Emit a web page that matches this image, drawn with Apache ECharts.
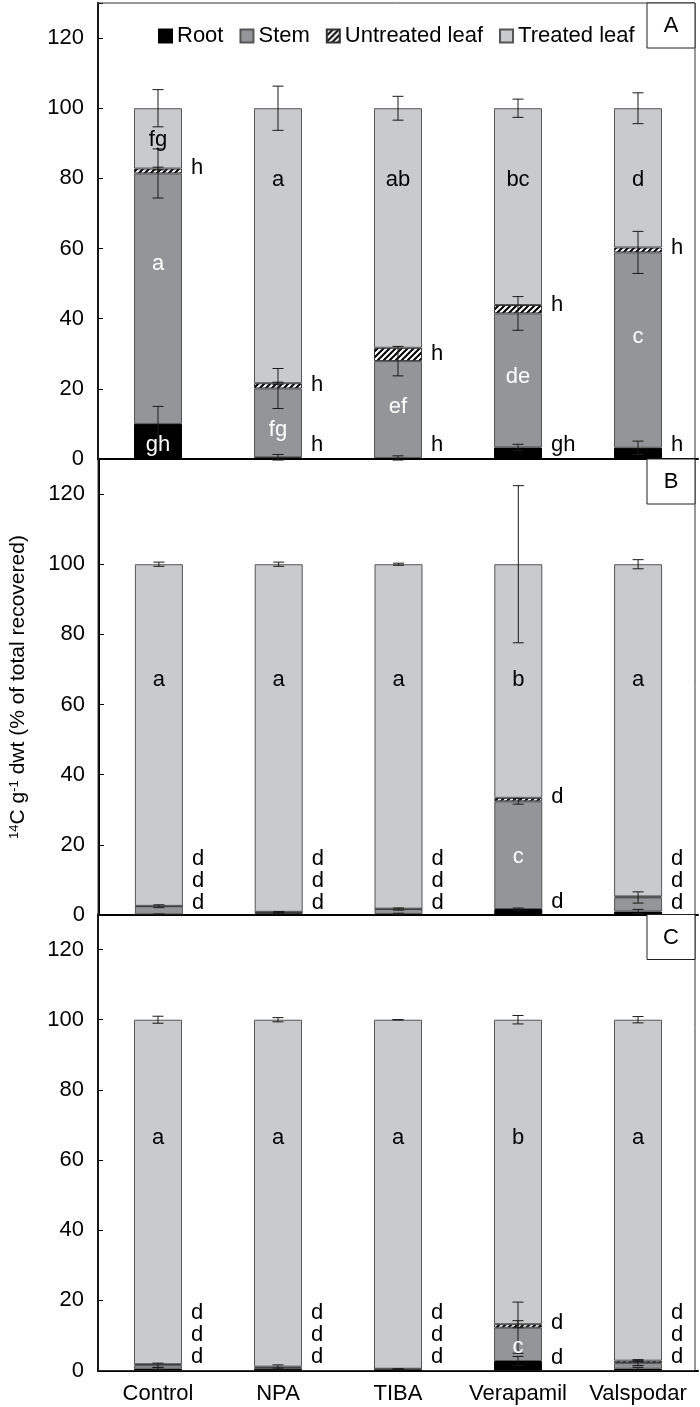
<!DOCTYPE html>
<html>
<head>
<meta charset="utf-8">
<script src="https://cdn.jsdelivr.net/npm/echarts@6/dist/echarts.min.js"></script>
<style>
  html, body { margin: 0; padding: 0; background: #fff; }
  #main { width: 700px; height: 1407px; }
</style>
</head>
<body>
<div id="main"></div>
<script>
const categories = ['Control', 'NPA', 'TIBA', 'Verapamil', 'Valspodar']
const partNames = ['Root', 'Stem', 'Untreated leaf', 'Treated leaf']
const panelLetters = ['A', 'B', 'C']

// panel A
const rootA = [10, 0.5, 0.3, 3.3, 3.2]
const stemA = [71.4, 19.6, 27.6, 38.2, 55.7]
const untreatedA = [1.4, 1.5, 3.8, 2.4, 1.4]
const treatedA = [17.2, 78.4, 68.3, 56.1, 39.7]
const rootErrA = [5, 0.8, 0.6, 0.9, 1.9]
const stemErrA = [7, 5.7, 4.2, 4.8, 6]
const untreatedErrA = [0.4, 0.3, null, null, null]
const treatedErrA = [5.3, 6.3, 3.4, 2.6, 4.4]
const lettersWhiteA = [[0, 4, 'gh'], [0, 55.7, 'a'], [1, 8.3, 'fg'], [2, 14.9, 'ef'], [3, 23.4, 'de'], [4, 34.8, 'c']]
const lettersBlackA = [[0, 90.9, 'fg'], [1, 79.5, 'a'], [2, 79.5, 'ab'], [3, 79.5, 'bc'], [4, 79.5, 'd']]
const lettersRightA = [[0, 82.9, 'h'], [1, 4, 'h'], [1, 21.1, 'h'], [2, 4, 'h'], [2, 29.9, 'h'],
  [3, 4, 'gh'], [3, 43.9, 'h'], [4, 4, 'h'], [4, 60.1, 'h']]

// panel B
const rootB = [0.2, 0.5, 0.3, 1.7, 1.0]
const stemB = [2.3, 0.3, 1.4, 30.7, 4.0]
const untreatedB = [0.1, 0.1, 0.1, 1.0, 0.3]
const treatedB = [97.4, 99.1, 98.2, 66.6, 94.7]
const rootErrB = [0.1, 0.2, 0.2, 0.3, 0.6]
const stemErrB = [0.4, 0.2, 0.3, 0.8, 1.6]
const untreatedErrB = [null, null, null, null, null]
const treatedErrB = [0.6, 0.6, 0.3, 22.4, 1.3]
const lettersWhiteB = [[3, 16.5, 'c']]
const lettersBlackB = [[0, 66.9, 'a'], [1, 66.9, 'a'], [2, 66.9, 'a'], [3, 66.9, 'b'], [4, 66.9, 'a']]
const lettersRightB = [[0, 3.3, 'd'], [0, 9.6, 'd'], [0, 16, 'd'], [1, 3.3, 'd'], [1, 9.6, 'd'], [1, 16, 'd'],
  [2, 3.3, 'd'], [2, 9.6, 'd'], [2, 16, 'd'], [3, 3.6, 'd'], [3, 33.6, 'd'],
  [4, 3.3, 'd'], [4, 9.6, 'd'], [4, 16, 'd']]

// panel C
const rootC = [0.5, 0.4, 0.2, 2.7, 0.5]
const stemC = [1.0, 0.4, 0.2, 9.5, 1.6]
const untreatedC = [0.3, 0.3, 0.1, 1.0, 0.7]
const treatedC = [98.2, 98.9, 99.5, 86.8, 97.2]
const rootErrC = [0.3, 0.3, 0.1, 1.3, 0.4]
const stemErrC = [0.6, 0.8, 0.1, 7.3, 0.7]
const untreatedErrC = [null, null, null, 1.0, 0.3]
const treatedErrC = [1.0, 0.6, 0.05, 1.2, 0.9]
const lettersWhiteC = [[3, 6.8, 'c']]
const lettersBlackC = [[0, 66.2, 'a'], [1, 66.2, 'a'], [2, 66.2, 'a'], [3, 66.2, 'b'], [4, 66.2, 'a']]
const lettersRightC = [[0, 3.8, 'd'], [0, 10, 'd'], [0, 16.3, 'd'], [1, 3.8, 'd'], [1, 10, 'd'], [1, 16.3, 'd'],
  [2, 3.8, 'd'], [2, 10, 'd'], [2, 16.3, 'd'], [3, 3.7, 'd'], [3, 13.5, 'd'],
  [4, 3.8, 'd'], [4, 10, 'd'], [4, 16.3, 'd']]

const panels = [
  { parts: [rootA, stemA, untreatedA, treatedA], errs: [rootErrA, stemErrA, untreatedErrA, treatedErrA],
    white: lettersWhiteA, black: lettersBlackA, right: lettersRightA },
  { parts: [rootB, stemB, untreatedB, treatedB], errs: [rootErrB, stemErrB, untreatedErrB, treatedErrB],
    white: lettersWhiteB, black: lettersBlackB, right: lettersRightB },
  { parts: [rootC, stemC, untreatedC, treatedC], errs: [rootErrC, stemErrC, untreatedErrC, treatedErrC],
    white: lettersWhiteC, black: lettersBlackC, right: lettersRightC }
]

const FONT = '"Liberation Sans", Arial, sans-serif'
const panelTop = [3, 459, 914.5]
const panelH = 456
const plotLeft = 98
const plotW = 600

// hatch for untreated leaf
function hatch() {
  const c = document.createElement('canvas')
  c.width = 6
  c.height = 6
  const ctx = c.getContext('2d')
  ctx.fillStyle = '#fff'
  ctx.fillRect(0, 0, 6, 6)
  ctx.strokeStyle = '#000'
  ctx.lineWidth = 2
  ctx.beginPath()
  ctx.moveTo(-1, 7); ctx.lineTo(7, -1)
  ctx.moveTo(-4, 4); ctx.lineTo(4, -4)
  ctx.moveTo(2, 10); ctx.lineTo(10, 2)
  ctx.stroke()
  return c
}
const partStyles = [
  { color: '#000000', borderColor: '#000000', borderWidth: 1 },
  { color: '#939598', borderColor: '#555555', borderWidth: 1 },
  { color: { image: hatch(), repeat: 'repeat' }, borderColor: '#333333', borderWidth: 1 },
  { color: '#c9cacc', borderColor: '#555555', borderWidth: 1 }
]

const chart = echarts.init(document.getElementById('main'), null, { renderer: 'canvas' })

const grid = []
const xAxis = []
const yAxis = []
const series = []
const graphic = []

panels.forEach((p, gi) => {
  grid.push({ left: plotLeft, width: plotW, top: panelTop[gi], height: panelH })
  xAxis.push({
    type: 'category', gridIndex: gi, data: categories,
    axisLine: { lineStyle: { color: '#000', width: 2 } },
    axisTick: { inside: true, length: 4, lineStyle: { color: '#000' } },
    axisLabel: { show: gi === 2, interval: 0, fontSize: 22, fontFamily: FONT, color: '#000', margin: 12 }
  })
  yAxis.push({
    type: 'value', gridIndex: gi, min: 0, max: 130, interval: 20,
    splitLine: { show: false },
    axisLine: { show: true, lineStyle: { color: '#000', width: 2 } },
    axisTick: { show: true, inside: true, length: 5, lineStyle: { color: '#000' } },
    axisLabel: { fontSize: 22, fontFamily: FONT, color: '#000', margin: 14,
      formatter: v => (v > 120 ? '' : v) },
    name: gi === 1 ? '{sup|14}C g{sup|-1} dwt (% of total recovered)' : '',
    nameLocation: 'middle', nameRotate: 90, nameGap: 70,
    nameTextStyle: { fontSize: 21, fontFamily: FONT, color: '#000',
      rich: { sup: { fontSize: 13, fontFamily: FONT, color: '#000', verticalAlign: 'top', padding: [0, 0, 8, 0] } } }
  })

  // stacked bars
  p.parts.forEach((vals, k) => {
    series.push({
      name: partNames[k], type: 'bar', xAxisIndex: gi, yAxisIndex: gi,
      stack: 'panel' + gi, barWidth: 48, data: vals,
      itemStyle: partStyles[k], emphasis: { disabled: true }
    })
  })

  // error bars at the top of each cumulative segment
  const errData = []
  const cum = [0, 0, 0, 0, 0]
  p.parts.forEach((vals, k) => {
    vals.forEach((v, i) => {
      cum[i] += v
      const e = p.errs[k][i]
      if (e !== null) errData.push([i, cum[i], e])
    })
  })
  series.push({
    type: 'custom', xAxisIndex: gi, yAxisIndex: gi, silent: true, z: 5,
    data: errData,
    renderItem: (params, api) => {
      const x = api.value(0), c = api.value(1), e = api.value(2)
      const hi = api.coord([x, c + e])
      const lo = api.coord([x, c - e])
      const hw = 5.5
      const st = { stroke: '#1a1a1a', lineWidth: 1 }
      return {
        type: 'group', children: [
          { type: 'line', shape: { x1: hi[0], y1: hi[1], x2: lo[0], y2: lo[1] }, style: st },
          { type: 'line', shape: { x1: hi[0] - hw, y1: hi[1], x2: hi[0] + hw, y2: hi[1] }, style: st },
          { type: 'line', shape: { x1: lo[0] - hw, y1: lo[1], x2: lo[0] + hw, y2: lo[1] }, style: st }
        ]
      }
    }
  })

  // significance letters
  const letterSeries = (rows, fill, align, dx) => ({
    type: 'custom', xAxisIndex: gi, yAxisIndex: gi, silent: true, z: 6,
    data: rows.map(r => [r[0], r[1]]),
    renderItem: (params, api) => {
      const pt = api.coord([api.value(0), api.value(1)])
      return {
        type: 'text', x: pt[0] + dx, y: pt[1],
        style: { text: rows[params.dataIndex][2], fill: fill, fontSize: 22, fontFamily: FONT,
          align: align, verticalAlign: 'middle' }
      }
    }
  })
  series.push(letterSeries(p.white, '#ffffff', 'center', 0))
  series.push(letterSeries(p.black, '#000000', 'center', 0))
  series.push(letterSeries(p.right, '#000000', 'left', 33))

  // panel letter box
  graphic.push({
    type: 'rect', shape: { x: 647, y: panelTop[gi], width: 48, height: 45 },
    style: { fill: '#fff', stroke: '#222', lineWidth: 1 }, z: 20
  })
  graphic.push({
    type: 'text', x: 671, y: panelTop[gi] + 23,
    style: { text: panelLetters[gi], fontSize: 22, fontFamily: FONT, fill: '#000', align: 'center', verticalAlign: 'middle' },
    z: 21
  })
})

// outer frame
graphic.unshift({
  type: 'rect', shape: { x: plotLeft, y: panelTop[0], width: 597, height: panelTop[2] + panelH - panelTop[0] },
  style: { fill: 'none', stroke: '#333', lineWidth: 1 }, z: 1
})

chart.setOption({
  animation: false,
  backgroundColor: '#fff',
  legend: {
    data: partNames, left: 153, top: 20, icon: 'rect',
    itemWidth: 13, itemHeight: 13, itemGap: 16,
    textStyle: { fontSize: 22, fontFamily: FONT, color: '#000' }
  },
  grid: grid,
  xAxis: xAxis,
  yAxis: yAxis,
  series: series,
  graphic: graphic
})
</script>
</body>
</html>
